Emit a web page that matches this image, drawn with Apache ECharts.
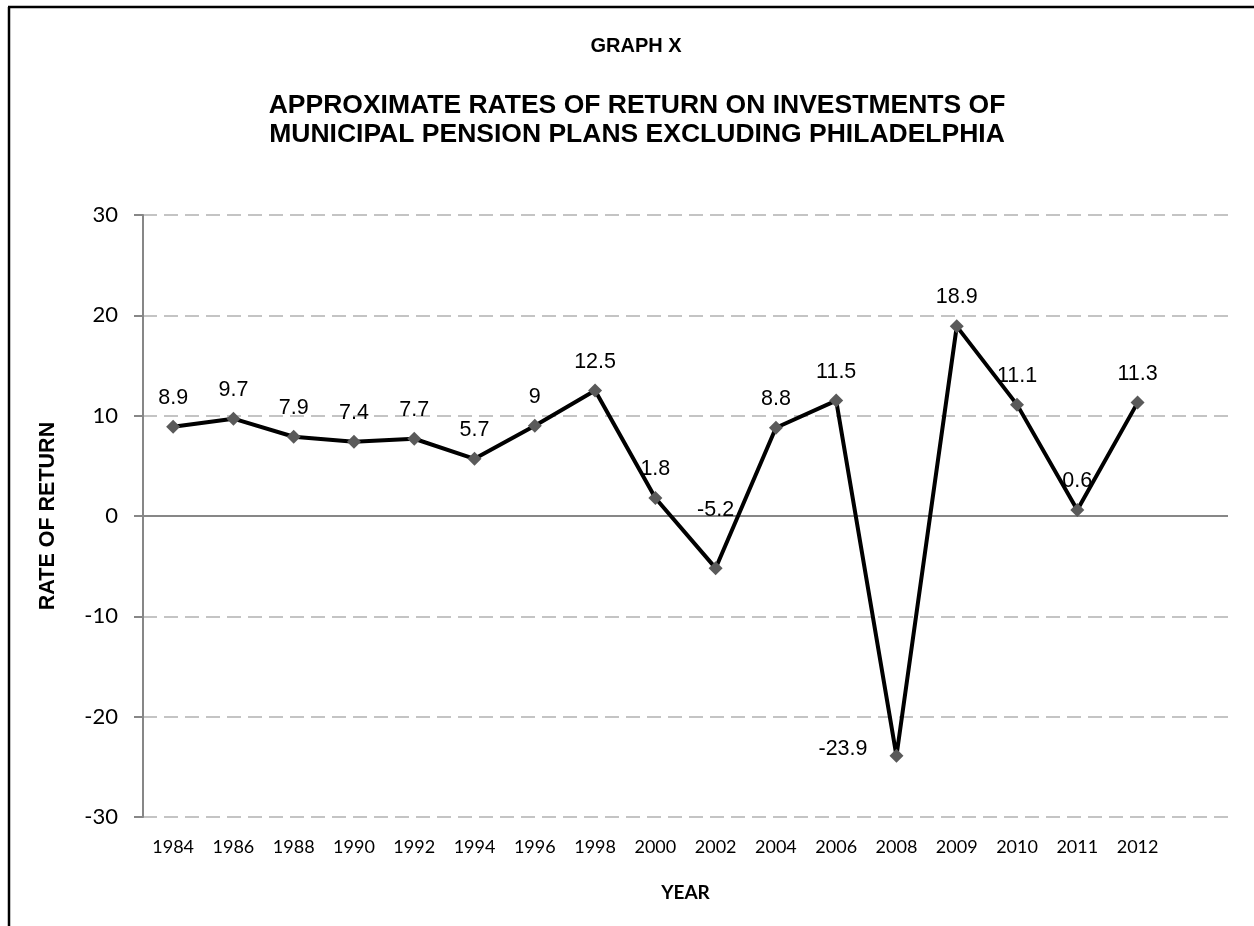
<!DOCTYPE html>
<html>
<head>
<meta charset="utf-8">
<script src="https://cdn.jsdelivr.net/npm/echarts@6/dist/echarts.min.js"></script>
<style>
  html, body { margin: 0; padding: 0; background: #fff; }
  #chart { width: 1254px; height: 926px; }
</style>
</head>
<body>
<div id="chart"></div>
<script>
// Fiscal years reported
const years = ['1984', '1986', '1988', '1990', '1992', '1994', '1996', '1998', '2000',
               '2002', '2004', '2006', '2008', '2009', '2010', '2011', '2012'];
// Approximate rate of return (%) for each year
const returns = [8.9, 9.7, 7.9, 7.4, 7.7, 5.7, 9, 12.5, 1.8,
                 -5.2, 8.8, 11.5, -23.9, 18.9, 11.1, 0.6, 11.3];
// Value axis tick values
const yTicks = [-30, -20, -10, 0, 10, 20, 30];

const arial = '"Liberation Sans", Arial, sans-serif';
const calibri = 'Lato, "Open Sans", sans-serif';

const seriesData = returns.map(function (v) {
  const item = { value: v };
  if (v === -23.9) {
    item.label = { position: 'left', distance: 22, offset: [0, -7] };
  } else if (v === -5.2) {
    item.label = { position: 'top', distance: 40 };
  }
  return item;
});

const chart = echarts.init(document.getElementById('chart'), null, { renderer: 'canvas' });
chart.setOption({
  animation: false,
  backgroundColor: '#ffffff',
  title: [
    {
      text: 'GRAPH X',
      left: 631, top: 31, textAlign: 'center',
      textStyle: { fontFamily: arial, fontWeight: 'bold', fontSize: 20, color: '#000' }
    },
    {
      text: 'APPROXIMATE RATES OF RETURN ON INVESTMENTS OF\nMUNICIPAL PENSION PLANS EXCLUDING PHILADELPHIA',
      left: 632, top: 86, textAlign: 'center',
      textStyle: { fontFamily: arial, fontWeight: 'bold', fontSize: 26.5, lineHeight: 29, color: '#000' }
    }
  ],
  grid: { left: 143, right: 26, top: 215, bottom: 109, containLabel: false },
  xAxis: {
    type: 'category',
    data: years,
    max: years.length,          // one empty slot after the last year
    boundaryGap: true,
    name: 'YEAR',
    nameLocation: 'middle',
    nameGap: 66,
    nameTextStyle: { fontFamily: calibri, fontWeight: 'bold', fontSize: 19, color: '#000' },
    axisLine: { show: false, onZero: false },
    axisTick: { show: false },
    axisLabel: {
      interval: 0, margin: 21,
      fontFamily: calibri, fontSize: 18, color: '#000',
      formatter: function (v) { return years.indexOf(v) >= 0 ? v : ''; }
    },
    splitLine: { show: false }
  },
  yAxis: {
    type: 'value',
    min: yTicks[0],
    max: yTicks[yTicks.length - 1],
    interval: 10,
    name: 'RATE OF RETURN',
    nameLocation: 'middle',
    nameGap: 84,
    nameRotate: 90,
    nameTextStyle: { fontFamily: arial, fontWeight: 'bold', fontSize: 21.5, color: '#000' },
    axisLine: { show: true, lineStyle: { color: '#878787', width: 2 } },
    axisTick: { show: true, inside: false, length: 9, lineStyle: { color: '#878787', width: 2 } },
    axisLabel: { margin: 25, fontFamily: calibri, fontSize: 22, color: '#000' },
    splitLine: {
      show: true,
      lineStyle: { color: '#c4c4c4', width: 2, type: [14, 7] }
    }
  },
  series: [
    {
      type: 'line',
      data: seriesData,
      symbol: 'diamond',
      symbolSize: 14,
      itemStyle: { color: '#5a5a5a' },
      lineStyle: { color: '#000', width: 4 },
      label: {
        show: true,
        position: 'top',
        distance: 11,
        fontFamily: arial,
        fontSize: 21.5,
        color: '#000'
      },
      markLine: {
        silent: true,
        symbol: 'none',
        label: { show: false },
        lineStyle: { color: '#878787', width: 2, type: 'solid' },
        data: [{ yAxis: 0 }],
        z: 1
      },
      z: 3
    }
  ],
  graphic: [
    { type: 'line', shape: { x1: 9, y1: 7, x2: 9, y2: 926 }, style: { stroke: '#000', lineWidth: 2.5 } },
    { type: 'line', shape: { x1: 8, y1: 7, x2: 1254, y2: 7 }, style: { stroke: '#000', lineWidth: 2.5 } }
  ]
});
</script>
</body>
</html>
